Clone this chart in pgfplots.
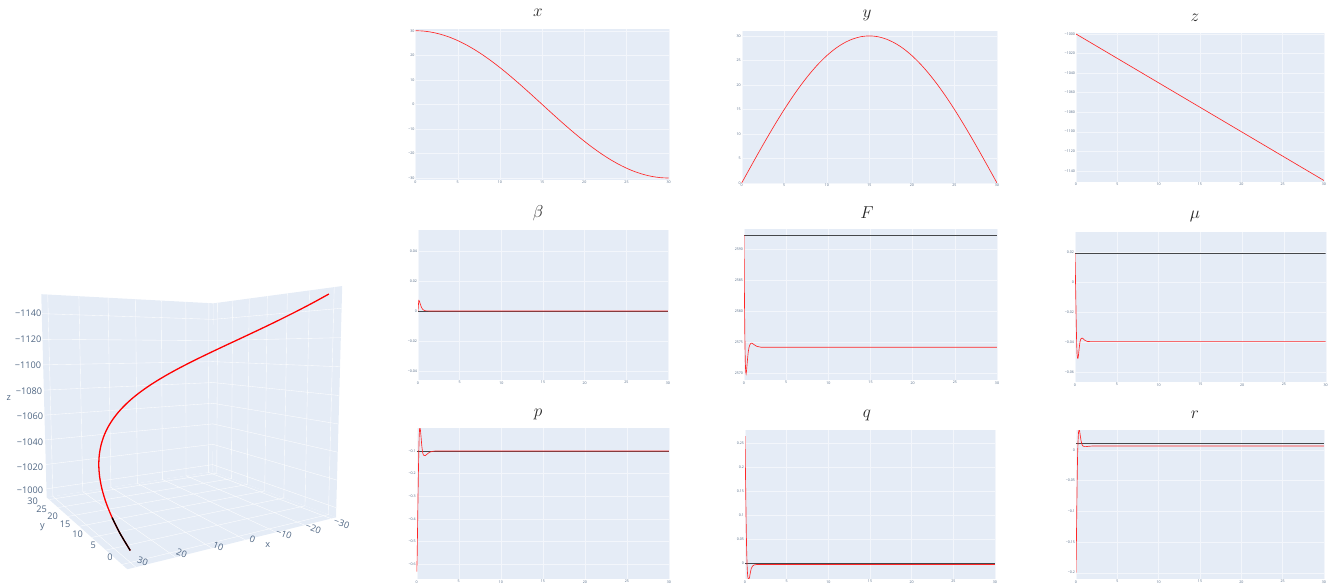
\documentclass[border=0pt]{standalone}
\usepackage{fontspec}
\setmainfont{Open Sans}
\usepackage{pgfplots}
\usepackage{pgfplotstable}
\pgfplotsset{compat=1.18}
\definecolor{wall}{HTML}{E5ECF6}
\definecolor{tickc}{HTML}{506784}
\pgfplotstableread{
t x y z
0 30 0 -1000
1 29.84 3.14 -1005
2 29.34 6.24 -1010
3 28.53 9.27 -1015
4 27.41 12.20 -1020
5 25.98 15 -1025
6 24.27 17.63 -1030
7 22.29 20.07 -1035
8 20.07 22.29 -1040
9 17.63 24.27 -1045
10 15 25.98 -1050
11 12.20 27.41 -1055
12 9.27 28.53 -1060
13 6.24 29.34 -1065
14 3.14 29.84 -1070
15 0 30 -1075
16 -3.14 29.84 -1080
17 -6.24 29.34 -1085
18 -9.27 28.53 -1090
19 -12.20 27.41 -1095
20 -15 25.98 -1100
21 -17.63 24.27 -1105
22 -20.07 22.29 -1110
23 -22.29 20.07 -1115
24 -24.27 17.63 -1120
25 -25.98 15 -1125
26 -27.41 12.20 -1130
27 -28.53 9.27 -1135
28 -29.34 6.24 -1140
29 -29.84 3.14 -1145
30 -30 0 -1150
}\traj
\pgfplotstableread{
x y z
30 0 -1000
29.84 3.14 -1005
29.34 6.24 -1010
}\trajstart
\pgfplotstableread{
t v
0 0
0.05 0.004
0.1 0.0071
0.15 0.0068
0.2 0.006
0.3 0.0042
0.4 0.0027
0.5 0.0016
0.6 0.0009
0.8 0.0003
1 0.0001
1.5 0
30 0
}\tbeta
\pgfplotstableread{
t v
0 2592.3
0.05 2583
0.1 2576
0.15 2572
0.2 2570.2
0.25 2569.9
0.3 2570.4
0.4 2572
0.5 2573.4
0.6 2574.2
0.7 2574.6
0.8 2574.8
0.9 2574.85
1 2574.8
1.2 2574.6
1.5 2574.35
2 2574.2
3 2574.2
30 2574.2
}\tF
\pgfplotstableread{
t v
0 0.0193
0.05 0.005
0.1 -0.012
0.15 -0.028
0.2 -0.041
0.25 -0.048
0.3 -0.0505
0.35 -0.0507
0.4 -0.0495
0.5 -0.044
0.6 -0.0395
0.7 -0.0378
0.8 -0.0373
0.9 -0.0373
1 -0.0378
1.2 -0.0388
1.5 -0.0395
2 -0.0396
30 -0.0396
}\tmu
\pgfplotstableread{
t v
0 -0.632
0.05 -0.58
0.1 -0.45
0.15 -0.32
0.2 -0.2
0.25 -0.1
0.3 -0.03
0.35 0
0.4 0.0015
0.45 -0.01
0.5 -0.03
0.6 -0.075
0.7 -0.105
0.8 -0.118
1 -0.1206
1.2 -0.115
1.5 -0.106
1.8 -0.102
2.2 -0.1
30 -0.1
}\tp
\pgfplotstableread{
t v
0 0.265
0.05 0.2
0.1 0.13
0.15 0.07
0.2 0.025
0.25 -0.005
0.3 -0.022
0.35 -0.031
0.4 -0.034
0.48 -0.034
0.55 -0.03
0.65 -0.02
0.75 -0.012
0.9 -0.007
1.1 -0.0045
1.5 -0.0035
30 -0.0035
}\tq
\pgfplotstableread{
t v
0 -0.2
0.05 -0.15
0.1 -0.09
0.15 -0.04
0.2 -0.005
0.25 0.015
0.3 0.028
0.35 0.032
0.4 0.0325
0.45 0.03
0.5 0.025
0.6 0.016
0.7 0.01
0.8 0.007
1 0.0055
1.2 0.0055
1.5 0.006
2 0.0065
30 0.0065
}\tr
\pgfplotsset{
 panel/.style={scale only axis,axis background/.style={fill=wall},
  axis line style={draw=none},tick style={draw=none},scaled y ticks=false,scaled x ticks=false,
  xmin=0,xmax=30,xtick={0,5,...,30},xticklabels={0,5,10,15,20,25,30},
  grid=major,grid style={white!55!wall,line width=0.35bp},
  tick label style={font=\fontsize{3.6}{4}\selectfont,text=tickc,inner sep=0.8bp},
  xticklabel style={yshift=-0.4bp}},
 red line/.style={red!85!white,line width=0.65bp},
 black line/.style={black!70!wall,line width=0.45bp}}
\newcommand\panel[9]{%
 \begin{axis}[panel,at={({#1*1bp},{(584-#4)*1bp})},anchor=south west,
  width={(#2-#1)*1bp},height={(#4-#3)*1bp},ymin=#5,ymax=#6,ytick={#7},yticklabels={#8}]
 #9
 \end{axis}}
\newcommand\ttl[3]{\node[font=\fontsize{17}{17}\selectfont,text=black!85] at ({#1*1bp},{(584-#2)*1bp}) {$#3$};}
\newcommand\gridseg[1]{\addplot[white,line width=0.35bp] table[row sep=\\,
  x expr={px(\thisrow{x},\thisrow{y},\thisrow{z})},y expr={py(\thisrow{x},\thisrow{y},\thisrow{z})}] {#1};}
\begin{document}
\begin{tikzpicture}
\path[use as bounding box] (0,0) rectangle (1335bp,584bp);
% 3D scene: the columns x, y, z are projected by a perspective map
\begin{axis}[scale only axis,hide axis,at={(0bp,0bp)},anchor=south west,width=370bp,height=314bp,
 xmin=0,xmax=1110,ymin=0,ymax=942,y dir=reverse,clip=false,
 declare function={
  uu(\x)=(\x+32)/64; vv(\y)=(31.5-\y)/33; ww(\z)=(-\z-993)/162;
  dd(\x,\y,\z)=1-0.17*uu(\x)-0.27*vv(\y)-0.03*ww(\z);
  px(\x,\y,\z)=(638+(0.83*140-638)*uu(\x)+(0.73*1008-638)*vv(\y)+(0.97*640-638)*ww(\z))/dd(\x,\y,\z);
  py(\x,\y,\z)=(605+(0.83*682-605)*uu(\x)+(0.73*742-605)*vv(\y)+(0.97*100-605)*ww(\z))/dd(\x,\y,\z);
 }]
\pgfplotsset{every axis plot/.append style={mark=none}}
% walls
\addplot[fill=wall,draw=none] table[row sep=\\,x expr={px(\thisrow{x},\thisrow{y},\thisrow{z})},y expr={py(\thisrow{x},\thisrow{y},\thisrow{z})}]
 {x y z\\ -32 31.5 -993\\ 32 31.5 -993\\ 32 31.5 -1155\\ -32 31.5 -1155\\ -32 31.5 -993\\};
\addplot[fill=wall,draw=none] table[row sep=\\,x expr={px(\thisrow{x},\thisrow{y},\thisrow{z})},y expr={py(\thisrow{x},\thisrow{y},\thisrow{z})}]
 {x y z\\ -32 31.5 -993\\ -32 -1.5 -993\\ -32 -1.5 -1155\\ -32 31.5 -1155\\ -32 31.5 -993\\};
\addplot[fill=wall,draw=none] table[row sep=\\,x expr={px(\thisrow{x},\thisrow{y},\thisrow{z})},y expr={py(\thisrow{x},\thisrow{y},\thisrow{z})}]
 {x y z\\ -32 31.5 -993\\ 32 31.5 -993\\ 32 -1.5 -993\\ -32 -1.5 -993\\ -32 31.5 -993\\};
% grid
\pgfplotsinvokeforeach{-30,-20,-10,0,10,20,30}{\gridseg{x y z\\ #1 -1.5 -993\\ #1 31.5 -993\\ #1 31.5 -1155\\}}
\pgfplotsinvokeforeach{0,5,10,15,20,25,30}{\gridseg{x y z\\ 32 #1 -993\\ -32 #1 -993\\ -32 #1 -1155\\}}
\pgfplotsinvokeforeach{-1000,-1020,-1040,-1060,-1080,-1100,-1120,-1140}{\gridseg{x y z\\ 32 31.5 #1\\ -32 31.5 #1\\ -32 -1.5 #1\\}}
% trajectory
\addplot[red,line width=1.3bp,smooth] table[x expr={px(\thisrow{x},\thisrow{y},\thisrow{z})},y expr={py(\thisrow{x},\thisrow{y},\thisrow{z})}] {\traj};
\addplot[black,line width=1.3bp,smooth] table[x expr={px(\thisrow{x},\thisrow{y},\thisrow{z})},y expr={py(\thisrow{x},\thisrow{y},\thisrow{z})}] {\trajstart};
% labels
\begin{scope}[every node/.style={font=\fontsize{9.2}{10}\selectfont,text=tickc,inner sep=0pt}]
\node at (axis cs:85,131) {−1140};\node at (axis cs:85,208) {−1120};\node at (axis cs:84,286) {−1100};
\node at (axis cs:87,364) {−1080};\node at (axis cs:90,440) {−1060};\node at (axis cs:90,516) {−1040};
\node at (axis cs:90,592) {−1020};\node at (axis cs:90,662) {−1000};
\node at (axis cs:26,384) {z};
\node at (axis cs:98,695) {30};\node at (axis cs:125,718) {25};
\node at (axis cs:158,740) {20};\node at (axis cs:195,763) {15};
\node at (axis cs:233,792) {10};\node at (axis cs:280,826) {5};
\node at (axis cs:330,862) {0};\node at (axis cs:127,772) {y};
\node[rotate=-20] at (axis cs:428,875) {30};\node[rotate=-20] at (axis cs:545,850) {20};
\node[rotate=-20] at (axis cs:655,830) {10};\node[rotate=-20] at (axis cs:757,808) {0};
\node[rotate=-20] at (axis cs:852,792) {−10};\node[rotate=-20] at (axis cs:940,775) {−20};
\node[rotate=-20] at (axis cs:1025,760) {−30};\node at (axis cs:803,826) {x};
\end{scope}
\end{axis}
% row 1
\panel{415.5}{668.7}{29}{180}{-30.8}{30.7}{-30,-20,-10,0,10,20,30}{−30,−20,−10,0,10,20,30}
 {\addplot[red line,smooth] table[x=t,y=x] {\traj};}
\panel{741.7}{997}{31}{183}{0}{31}{0,5,10,15,20,25,30}{0,5,10,15,20,25,30}
 {\addplot[red line,smooth] table[x=t,y=y] {\traj};}
\panel{1076}{1324}{33}{182}{-1151.5}{-999}{-1140,-1120,-1100,-1080,-1060,-1040,-1020,-1000}{−1140,−1120,−1100,−1080,−1060,−1040,−1020,−1000}
 {\addplot[red line] table[x=t,y=z] {\traj};}
% row 2
\panel{418}{668}{230}{380}{-0.046}{0.054}{-0.04,-0.02,0,0.02,0.04}{−0.04,−0.02,0,0.02,0.04}
 {\addplot[black line] coordinates {(0,0)(30,0)};\addplot[red line] table[x=t,y=v] {\tbeta};}
\panel{744}{997}{229}{380}{2568.9}{2593.3}{2570,2575,2580,2585,2590}{2570,2575,2580,2585,2590}
 {\addplot[black line] coordinates {(0,2592.3)(30,2592.3)};\addplot[red line] table[x=t,y=v] {\tF};}
\panel{1075}{1325.7}{232}{382}{-0.0665}{0.0335}{-0.06,-0.04,-0.02,0,0.02}{−0.06,−0.04,−0.02,0,0.02}
 {\addplot[black line] coordinates {(0,0.0193)(30,0.0193)};\addplot[red line] table[x=t,y=v] {\tmu};}
% row 3
\panel{416.7}{669}{428}{579}{-0.665}{0.0015}{-0.6,-0.5,-0.4,-0.3,-0.2,-0.1}{−0.6,−0.5,−0.4,−0.3,−0.2,−0.1}
 {\addplot[black line] coordinates {(0,-0.1)(30,-0.1)};\addplot[red line] table[x=t,y=v] {\tp};}
\panel{745}{995}{430}{579}{-0.034}{0.278}{0,0.05,0.1,0.15,0.2,0.25}{0,0.05,0.1,0.15,0.2,0.25}
 {\addplot[black line] coordinates {(0,0)(30,0)};\addplot[red line] table[x=t,y=v] {\tq};}
\panel{1076}{1324}{430}{579}{-0.2103}{0.0326}{-0.2,-0.15,-0.1,-0.05,0}{−0.2,−0.15,−0.1,−0.05,0}
 {\addplot[black line] coordinates {(0,0.0109)(30,0.0109)};\addplot[red line] table[x=t,y=v] {\tr};}
% titles
\ttl{538}{13}{x}\ttl{867}{15}{y}\ttl{1195}{18}{z}
\ttl{538}{213}{\beta}\ttl{867}{213}{F}\ttl{1195}{216}{\mu}
\ttl{538}{414}{p}\ttl{867}{415}{q}\ttl{1195}{415}{r}
\end{tikzpicture}
\end{document}
